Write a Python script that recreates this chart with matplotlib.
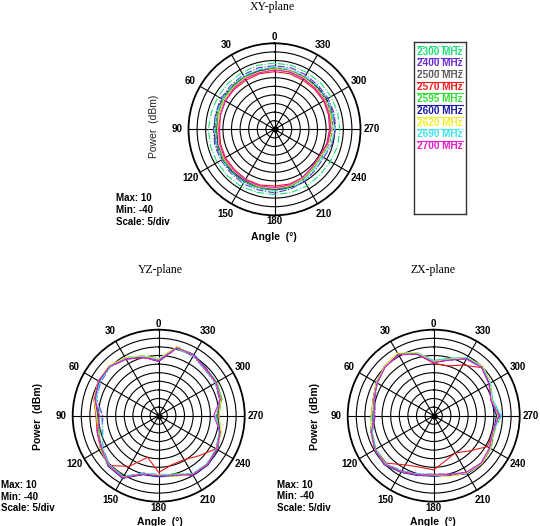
import numpy as np
import matplotlib
matplotlib.use("Agg")
import matplotlib.pyplot as plt

W, H = 540, 526

ANGLES = list(range(0, 360, 15))
FREQ_LABELS = ["2300 MHz", "2400 MHz", "2500 MHz", "2570 MHz", "2595 MHz",
               "2600 MHz", "2620 MHz", "2690 MHz", "2700 MHz"]
COLORS = ["#22dd77", "#6a2bd0", "#606060", "#ee1c1c", "#33e033",
          "#1a1aa8", "#f2ee30", "#40e4f0", "#e61ecf"]
STYLES = ["-.", "-.", "--", "-", "-", "-", "-", "-.", "-"]

ANGLE_TICKS = list(range(0, 360, 30))
R_MIN, R_MAX, R_STEP = -40, 10, 5

XY_2300 = [-1.5,-1.5,-2,-2,-2,-2,-1.5,-1.5,-1.5,-1.5,-1.5,-2,-2,-2,-2,-2.5,-2.5,-2,-2,-2,-2,-2,-2,-1.5]
XY_2400 = [-3,-3,-3.5,-4,-4,-4.5,-4.5,-4,-4,-4,-3.5,-3.5,-3,-4,-5,-6.5,-7,-5.5,-4.5,-4,-4,-4,-3.5,-3]
XY_2500 = [-4,-4.5,-5,-5,-5.5,-5.5,-5.5,-5.5,-5,-5,-5,-5,-4.5,-5.5,-6.5,-8,-8.5,-7,-6,-5.5,-5.5,-5.5,-5,-4.5]
XY_2570 = [-6.5,-6.5,-7,-7,-7,-7.5,-8,-7.5,-7,-7,-6.5,-6.5,-7,-7,-7.5,-9,-9.5,-8.5,-8,-7.5,-7,-7,-7,-6.5]
XY_2595 = [-4.5,-5,-5,-5.5,-5.5,-6,-6,-6,-5.5,-5.5,-5,-5,-5,-5.5,-6.5,-8,-8.5,-7.5,-6.5,-6,-6,-6,-5.5,-5]
XY_2600 = [-5,-5,-5.5,-6,-6,-6.5,-6.5,-6,-6,-5.5,-5.5,-5.5,-5,-6,-7,-8.5,-9,-8,-7,-6.5,-6,-6,-6,-5.5]
XY_2620 = [-5,-5.5,-5.5,-6,-6,-6.5,-7,-6.5,-6,-6,-6,-5.5,-5.5,-6,-7,-8.5,-9,-7.5,-6.5,-6.5,-6,-6,-5.5,-5]
XY_2690 = [-3.5,-4,-4,-4.5,-5,-5,-5,-5,-4.5,-4.5,-4,-4,-4,-4.5,-5.5,-7,-7.5,-6,-5,-5,-4.5,-4.5,-4.5,-4]
XY_2700 = [-5.5,-6,-6,-6.5,-7,-7.5,-7.5,-7,-6.5,-6.5,-6,-6,-6,-6.5,-7.5,-9,-9.5,-8,-7.5,-7,-6.5,-6.5,-6,-5.5]

YZ_2300 = [-7.0,-4.0,-1.0,0.5,-0.5,-2.0,-5.0,-4.5,-1.0,1.5,1.5,-4.5,-4.5,-3.5,-1.0,0.5,-0.5,-2.5,-5.0,-2.0,-1.0,-1.0,1.0,1.5]
YZ_2400 = [-8.5,-5.0,-2.0,0.0,-1.0,-2.5,-7.5,-6.0,-2.5,0.5,1.0,-5.5,-5.5,-4.5,-1.0,0.0,-1.5,-3.5,-6.5,-3.5,-2.0,-2.0,0.0,0.5]
YZ_2500 = [-7.0,-4.5,-1.5,0.5,0.5,-1.0,-4.0,-3.0,-1.5,1.0,2.0,-5.0,-5.5,-4.0,-0.5,0.5,-1.0,-3.0,-5.0,-2.5,-1.5,-1.5,0.5,1.0]
YZ_2570 = [-7.5,-5.0,-1.5,0.5,0.0,-1.0,-3.5,-3.0,-1.0,1.0,-6.0,-15.0,-7.0,-10.5,-10.5,-7.0,-1.5,-3.0,-6.0,-3.0,-1.5,-2.0,0.5,1.0]
YZ_2595 = [-7.0,-4.0,-1.0,0.0,0.5,-1.5,-4.0,-3.5,-2.0,0.5,1.0,-5.0,-5.0,-5.0,-0.5,-0.5,-1.0,-3.5,-6.0,-2.0,-1.0,-1.5,0.5,0.5]
YZ_2600 = [-8.0,-4.5,-2.0,0.5,0.0,-1.5,-4.5,-3.5,-1.5,1.5,2.0,-4.5,-4.5,-4.0,0.0,0.5,-0.5,-3.0,-5.5,-2.5,-1.5,-1.0,1.0,1.0]
YZ_2620 = [-7.0,-4.0,-1.0,1.0,0.5,-1.0,-4.0,-3.5,-1.0,1.0,1.5,-5.0,-5.5,-3.5,-0.5,0.0,-1.0,-2.5,-5.0,-2.5,-1.5,-1.5,0.5,1.5]
YZ_2690 = [-7.5,-4.5,-1.5,0.0,-0.5,-2.5,-6.5,-6.5,-2.0,0.5,1.0,-5.5,-6.0,-4.5,-1.0,-0.5,-1.5,-3.5,-7.0,-3.0,-2.0,-2.0,0.0,0.5]
YZ_2700 = [-8.0,-5.0,-2.0,0.5,0.5,-1.5,-5.5,-3.0,-1.5,1.0,1.5,-5.0,-5.0,-4.0,-0.5,0.0,-1.0,-3.0,-8.0,-3.0,-1.5,-1.5,0.5,1.0]

ZX_2300 = [-8.0,-2.0,1.5,0.5,-1.5,-3.5,-3.5,-2.0,-0.5,0.5,-2.0,-4.0,-5.0,-4.0,-1.5,-0.5,-1.5,-3.5,-1.0,-4.5,-2.0,0.5,-1.0,-5.5]
ZX_2400 = [-9.0,-2.5,1.0,0.0,-2.0,-4.5,-6.0,-3.0,-1.0,-0.5,-3.0,-5.0,-6.0,-5.0,-2.0,-1.0,-2.5,-4.5,-1.5,-5.5,-2.5,-0.5,-1.5,-6.5]
ZX_2500 = [-8.5,-2.5,1.5,0.5,-1.5,-4.0,-4.5,-2.5,-0.5,0.0,-2.5,-4.5,-5.5,-4.0,-1.5,-1.0,-2.0,-4.0,-2.5,-5.0,-2.0,0.0,-1.5,-6.0]
ZX_2570 = [-9.5,-3.0,1.0,0.0,-2.0,-3.5,-4.0,-2.5,-1.0,-1.0,-7.0,-9.0,-8.5,-13.0,-15.0,-11.0,-4.0,-4.0,-3.0,-5.0,-2.5,-0.5,-6.0,-10.0]
ZX_2595 = [-8.0,-2.5,1.5,0.0,-2.0,-4.0,-5.0,-3.0,-1.0,-0.5,-2.5,-4.5,-5.5,-4.5,-1.5,-1.0,-2.5,-4.0,-3.0,-5.0,-2.5,0.0,-1.0,-5.5]
ZX_2600 = [-9.0,-3.0,1.5,0.5,-1.5,-3.5,-4.5,-2.5,-0.5,0.5,-2.0,-4.0,-5.0,-4.0,-1.0,-0.5,-2.0,-4.0,-3.5,-5.5,-2.5,0.0,-1.5,-6.5]
ZX_2620 = [-8.5,-2.0,2.0,0.5,-1.5,-3.5,-4.0,-2.5,-0.5,0.0,-2.5,-4.5,-5.5,-3.5,-1.5,-0.5,-2.0,-4.0,-2.5,-5.0,-2.0,0.5,-1.0,-6.0]
ZX_2690 = [-8.0,-2.5,1.0,0.0,-2.0,-4.0,-5.0,-3.0,-1.0,-0.5,-3.0,-5.0,-6.0,-4.5,-2.0,-1.0,-2.5,-4.5,-0.5,-4.5,-2.0,0.0,-1.0,-5.5]
ZX_2700 = [-9.0,-3.0,1.0,0.0,-2.0,-4.0,-5.5,-2.5,-0.5,0.0,-2.5,-4.5,-5.5,-4.5,-2.0,-1.0,-2.5,-4.5,-2.0,-5.5,-3.0,-0.5,-2.0,-6.5]

XY = [XY_2300, XY_2400, XY_2500, XY_2570, XY_2595, XY_2600, XY_2620, XY_2690, XY_2700]
YZ = [YZ_2300, YZ_2400, YZ_2500, YZ_2570, YZ_2595, YZ_2600, YZ_2620, YZ_2690, YZ_2700]
ZX = [ZX_2300, ZX_2400, ZX_2500, ZX_2570, ZX_2595, ZX_2600, ZX_2620, ZX_2690, ZX_2700]

SANS = "Liberation Sans"
SERIF = "Liberation Serif"

fig = plt.figure(figsize=(W / 100, H / 100), dpi=100)
fig.patch.set_facecolor("white")


def fx(px):
    return px / W


def fy(py):
    return 1 - py / H


def polar_panel(cx, cy, series, R=86):
    ax = fig.add_axes([fx(cx - R), fy(cy + R), fx(2 * R), 2 * R / H], projection="polar")
    ax.set_theta_zero_location("N")
    ax.set_theta_direction(1)
    ax.set_rlim(R_MIN, R_MAX)
    ax.set_rticks(np.arange(R_MIN + R_STEP, R_MAX, R_STEP))
    ax.set_yticklabels([])
    ax.set_thetagrids(ANGLE_TICKS, [""] * len(ANGLE_TICKS))
    ax.grid(True, color="black", linewidth=0.8, linestyle="-")
    ax.spines["polar"].set_linewidth(1.3)
    ax.spines["polar"].set_color("black")
    th = np.deg2rad(np.array(ANGLES + [ANGLES[0]]))
    for vals, c, ls in zip(series, COLORS, STYLES):
        v = np.array(list(vals) + [vals[0]])
        ax.plot(th, v, color=c, linestyle=ls, linewidth=0.8)
    ax.plot([0], [R_MIN], "o", color="black", markersize=3.5, zorder=5)
    # angle labels just outside the rim
    span = R_MAX - R_MIN
    for a in ANGLE_TICKS:
        dist = 92.0 if a in (0, 180) else 97.5
        r_lab = R_MIN + dist / R * span
        ax.text(np.deg2rad(a), r_lab, str(a), family=SANS, fontsize=7, fontweight="bold",
                ha="center", va="center", clip_on=False)
    return ax


polar_panel(274.5, 129.3, XY)
polar_panel(158.7, 415.7, YZ)
polar_panel(433.7, 415.7, ZX)

# titles
fig.text(fx(272), fy(7), "XY-plane", family=SERIF, fontsize=8.5, ha="center", va="center")
fig.text(fx(160), fy(270), "YZ-plane", family=SERIF, fontsize=8.5, ha="center", va="center")
fig.text(fx(433), fy(270), "ZX-plane", family=SERIF, fontsize=8.5, ha="center", va="center")

# axis labels
fig.text(fx(154), fy(126), "Power  (dBm)", family=SANS, fontsize=7.5, rotation=90,
         ha="center", va="center", color="#222222")
fig.text(fx(38), fy(416), "Power  (dBm)", family=SANS, fontsize=7.5, fontweight="bold",
         rotation=90, ha="center", va="center")
fig.text(fx(315), fy(416), "Power  (dBm)", family=SANS, fontsize=7.5, fontweight="bold",
         rotation=90, ha="center", va="center")
fig.text(fx(274), fy(237), "Angle  (°)", family=SANS, fontsize=7.5, fontweight="bold",
         ha="center", va="center")
fig.text(fx(160), fy(522), "Angle  (°)", family=SANS, fontsize=7.5, fontweight="bold",
         ha="center", va="center")
fig.text(fx(433), fy(522), "Angle  (°)", family=SANS, fontsize=7.5, fontweight="bold",
         ha="center", va="center")

# scale info
INFO = ["Max: 10", "Min: -40", "Scale: 5/div"]
for (x0, y0, dy) in [(116.5, 197.7, 12.3), (1, 485, 11.7), (277, 484.5, 11.6)]:
    for i, t in enumerate(INFO):
        fig.text(fx(x0), fy(y0 + i * dy), t, family=SANS, fontsize=7, fontweight="bold",
                 ha="left", va="center")

# legend box
lx0, ly0, lx1, ly1 = 414, 42, 466, 214
lax = fig.add_axes([fx(lx0), fy(ly1), fx(lx1 - lx0), (ly1 - ly0) / H])
lax.set_xlim(0, lx1 - lx0)
lax.set_ylim(ly1 - ly0, 0)
lax.set_xticks([])
lax.set_yticks([])
for s in lax.spines.values():
    s.set_linewidth(1.0)
    s.set_color("#333333")
for i, (lab, c, ls) in enumerate(zip(FREQ_LABELS, COLORS, STYLES)):
    yt = 9.7 + i * 11.8
    lax.plot([3, 49], [yt - 5.5, yt - 5.5], color=c, linestyle=ls, linewidth=0.8)
    lax.text(26, yt, lab, color=c, family=SANS, fontsize=7.2, fontweight="bold",
             ha="center", va="center")

fig.savefig("out.png", dpi=100, facecolor="white")
